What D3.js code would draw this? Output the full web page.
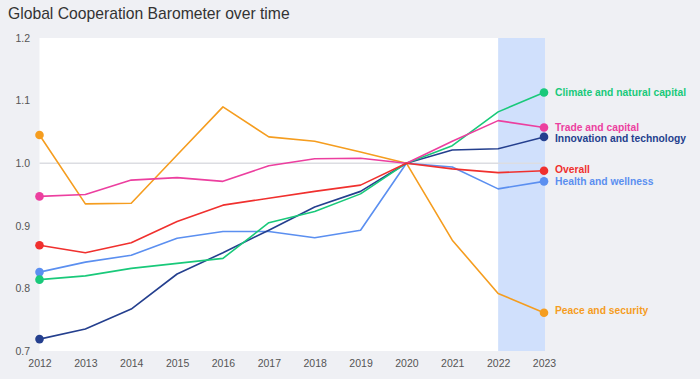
<!DOCTYPE html>
<html>
<head>
<meta charset="utf-8">
<script src="https://cdn.jsdelivr.net/npm/d3@7"></script>
<style>
  html, body { margin: 0; padding: 0; background: #eff0f4; }
  svg { display: block; font-family: "Liberation Sans", Arial, Helvetica, sans-serif; }
</style>
</head>
<body>
<svg id="chart" width="700" height="379"></svg>
<script>
const years = [2012, 2013, 2014, 2015, 2016, 2017, 2018, 2019, 2020, 2021, 2022, 2023];
const yTicks = [0.7, 0.8, 0.9, 1.0, 1.1, 1.2];
const highlightYears = [2022, 2023];

const climate    = [0.814, 0.820, 0.832, 0.840, 0.848, 0.905, 0.923, 0.951, 1.000, 1.028, 1.082, 1.113];
const trade      = [0.947, 0.950, 0.973, 0.977, 0.971, 0.996, 1.007, 1.008, 1.000, 1.035, 1.068, 1.057];
const innovation = [0.719, 0.735, 0.767, 0.823, 0.857, 0.893, 0.930, 0.955, 1.000, 1.021, 1.023, 1.042];
const overall    = [0.869, 0.857, 0.873, 0.907, 0.933, 0.944, 0.955, 0.965, 1.000, 0.991, 0.985, 0.988];
const health     = [0.826, 0.842, 0.853, 0.880, 0.891, 0.891, 0.881, 0.893, 1.000, 0.994, 0.959, 0.971];
const peace      = [1.045, 0.935, 0.936, 1.013, 1.090, 1.042, 1.035, 1.018, 1.000, 0.877, 0.792, 0.761];

const seriesNames = ["Peace and security", "Health and wellness", "Innovation and technology", "Climate and natural capital", "Trade and capital", "Overall"];
const seriesValues = [peace, health, innovation, climate, trade, overall];
const seriesColors = ["#f59d1f", "#5b8ff0", "#243f8e", "#19c97a", "#ec3f9f", "#f0302e"];

const svg = d3.select("#chart");

const x = d3.scaleLinear().domain([2012, 2023]).range([39.5, 544]);
const y = d3.scaleLinear().domain([0.7, 1.2]).range([351, 38]);

// title
svg.append("text")
  .attr("x", 8).attr("y", 19)
  .attr("font-size", 15.7)
  .attr("fill", "#333")
  .text("Global Cooperation Barometer over time");

// plot background
svg.append("rect")
  .attr("x", x(2012)).attr("y", y(1.2))
  .attr("width", x(2023) - x(2012) + 1).attr("height", y(0.7) - y(1.2))
  .attr("fill", "#ffffff");

// highlight band
svg.append("rect")
  .attr("x", x(highlightYears[0])).attr("y", y(1.2))
  .attr("width", x(highlightYears[1]) - x(highlightYears[0]) + 1).attr("height", y(0.7) - y(1.2))
  .attr("fill", "#d0e0fc");

// reference line at 1.0
svg.append("line")
  .attr("x1", x(2012)).attr("x2", x(2023) + 1)
  .attr("y1", y(1.0)).attr("y2", y(1.0))
  .attr("stroke", "#dcdde2").attr("stroke-width", 1.5);

// y axis
const yAxis = d3.axisLeft(y).tickValues(yTicks).tickFormat(d3.format(".1f")).tickSize(0).tickPadding(0);
const gy = svg.append("g").attr("transform", "translate(30,0)").call(yAxis);
gy.select(".domain").remove();
gy.selectAll("text").attr("font-size", 10.5).attr("fill", "#555").attr("font-family", "Liberation Sans, Arial, sans-serif");

// x axis
const xAxis = d3.axisBottom(x).tickValues(years).tickFormat(d3.format("d")).tickSize(0).tickPadding(0);
const gx = svg.append("g").attr("transform", "translate(0,360)").call(xAxis);
gx.select(".domain").remove();
gx.selectAll("text").attr("font-size", 10.5).attr("fill", "#555").attr("font-family", "Liberation Sans, Arial, sans-serif");

// lines
const line = d3.line().x((d, i) => x(years[i])).y(d => y(d));
seriesValues.forEach((vals, k) => {
  svg.append("path")
    .attr("d", line(vals))
    .attr("fill", "none")
    .attr("stroke", seriesColors[k])
    .attr("stroke-width", 1.6)
    .attr("stroke-linejoin", "round");
});

// end dots
seriesValues.forEach((vals, k) => {
  [0, vals.length - 1].forEach(i => {
    svg.append("circle")
      .attr("cx", x(years[i])).attr("cy", y(vals[i]))
      .attr("r", 4.3)
      .attr("fill", seriesColors[k]);
  });
});

// labels
const labelOffsets = { "Innovation and technology": 1, "Trade and capital": 0, "Overall": -1, "Health and wellness": 0, "Peace and security": -2, "Climate and natural capital": 0 };
seriesValues.forEach((vals, k) => {
  const last = vals[vals.length - 1];
  svg.append("text")
    .attr("x", x(2023) + 11)
    .attr("y", y(last) + labelOffsets[seriesNames[k]])
    .attr("dy", "0.35em")
    .attr("font-size", 10.3)
    .attr("font-weight", "bold")
    .attr("fill", seriesColors[k])
    .text(seriesNames[k]);
});
</script>
</body>
</html>
